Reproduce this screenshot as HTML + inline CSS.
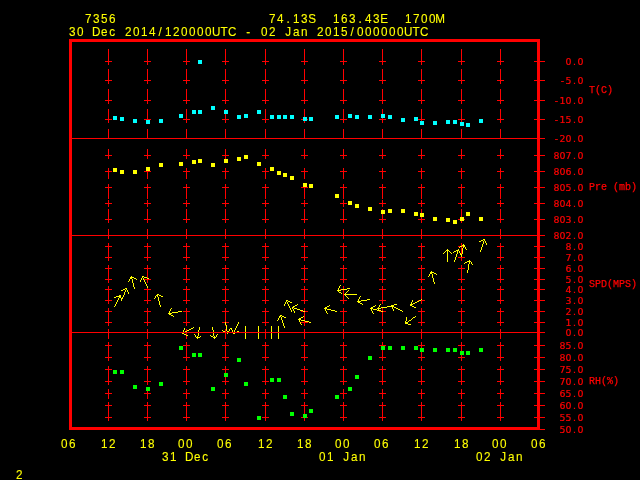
<!DOCTYPE html>
<html><head><meta charset="utf-8"><title>Meteogram 7356</title>
<style>
html,body{margin:0;padding:0;background:#000;}
#c{position:relative;width:640px;height:480px;background:#000;overflow:hidden;}
svg{position:absolute;left:0;top:0;}
text{text-anchor:middle;}
text.y{fill:#ff0;stroke:#ff0;stroke-width:0.1px;font-family:"Liberation Sans",sans-serif;font-size:13px;}
text.a{text-anchor:start;fill:#f00;stroke:#f00;stroke-width:0.25px;font-family:"Liberation Mono",monospace;font-size:10px;}
text.n{fill:#f00;stroke:#f00;stroke-width:0.22px;font-family:"DejaVu Sans","Liberation Sans",sans-serif;font-size:9.4px;}
</style></head><body><div id="c">
<svg width="640" height="480" viewBox="0 0 640 480" shape-rendering="crispEdges">
<path fill="#ff0000" d="M69 39h471v3h-471zM69 427h471v3h-471zM69 39h3v391h-3zM537 39h3v391h-3zM108 49h1v10h-1zM108 69h1v10h-1zM108 89h1v10h-1zM108 109h1v10h-1zM108 129h1v10h-1zM108 149h1v10h-1zM108 169h1v10h-1zM108 189h1v10h-1zM108 209h1v10h-1zM108 229h1v10h-1zM108 249h1v10h-1zM108 269h1v10h-1zM108 289h1v10h-1zM108 309h1v10h-1zM108 329h1v10h-1zM108 349h1v10h-1zM108 369h1v10h-1zM108 389h1v10h-1zM108 409h1v10h-1zM108 58h1v7h-1zM105 61h7v1h-7zM108 77h1v7h-1zM105 80h7v1h-7zM108 97h1v7h-1zM105 100h7v1h-7zM108 116h1v7h-1zM105 119h7v1h-7zM108 152h1v7h-1zM105 155h7v1h-7zM108 168h1v7h-1zM105 171h7v1h-7zM108 184h1v7h-1zM105 187h7v1h-7zM108 200h1v7h-1zM105 203h7v1h-7zM108 216h1v7h-1zM105 219h7v1h-7zM108 243h1v7h-1zM105 246h7v1h-7zM108 254h1v7h-1zM105 257h7v1h-7zM108 265h1v7h-1zM105 268h7v1h-7zM108 276h1v7h-1zM105 279h7v1h-7zM108 286h1v7h-1zM105 289h7v1h-7zM108 297h1v7h-1zM105 300h7v1h-7zM108 308h1v7h-1zM105 311h7v1h-7zM108 319h1v7h-1zM105 322h7v1h-7zM108 342h1v7h-1zM105 345h7v1h-7zM108 354h1v7h-1zM105 357h7v1h-7zM108 366h1v7h-1zM105 369h7v1h-7zM108 378h1v7h-1zM105 381h7v1h-7zM108 390h1v7h-1zM105 393h7v1h-7zM108 402h1v7h-1zM105 405h7v1h-7zM108 414h1v7h-1zM105 417h7v1h-7zM147 49h1v10h-1zM147 69h1v10h-1zM147 89h1v10h-1zM147 109h1v10h-1zM147 129h1v10h-1zM147 149h1v10h-1zM147 169h1v10h-1zM147 189h1v10h-1zM147 209h1v10h-1zM147 229h1v10h-1zM147 249h1v10h-1zM147 269h1v10h-1zM147 289h1v10h-1zM147 309h1v10h-1zM147 329h1v10h-1zM147 349h1v10h-1zM147 369h1v10h-1zM147 389h1v10h-1zM147 409h1v10h-1zM147 58h1v7h-1zM144 61h7v1h-7zM147 77h1v7h-1zM144 80h7v1h-7zM147 97h1v7h-1zM144 100h7v1h-7zM147 116h1v7h-1zM144 119h7v1h-7zM147 152h1v7h-1zM144 155h7v1h-7zM147 168h1v7h-1zM144 171h7v1h-7zM147 184h1v7h-1zM144 187h7v1h-7zM147 200h1v7h-1zM144 203h7v1h-7zM147 216h1v7h-1zM144 219h7v1h-7zM147 243h1v7h-1zM144 246h7v1h-7zM147 254h1v7h-1zM144 257h7v1h-7zM147 265h1v7h-1zM144 268h7v1h-7zM147 276h1v7h-1zM144 279h7v1h-7zM147 286h1v7h-1zM144 289h7v1h-7zM147 297h1v7h-1zM144 300h7v1h-7zM147 308h1v7h-1zM144 311h7v1h-7zM147 319h1v7h-1zM144 322h7v1h-7zM147 342h1v7h-1zM144 345h7v1h-7zM147 354h1v7h-1zM144 357h7v1h-7zM147 366h1v7h-1zM144 369h7v1h-7zM147 378h1v7h-1zM144 381h7v1h-7zM147 390h1v7h-1zM144 393h7v1h-7zM147 402h1v7h-1zM144 405h7v1h-7zM147 414h1v7h-1zM144 417h7v1h-7zM186 49h1v10h-1zM186 69h1v10h-1zM186 89h1v10h-1zM186 109h1v10h-1zM186 129h1v10h-1zM186 149h1v10h-1zM186 169h1v10h-1zM186 189h1v10h-1zM186 209h1v10h-1zM186 229h1v10h-1zM186 249h1v10h-1zM186 269h1v10h-1zM186 289h1v10h-1zM186 309h1v10h-1zM186 329h1v10h-1zM186 349h1v10h-1zM186 369h1v10h-1zM186 389h1v10h-1zM186 409h1v10h-1zM186 58h1v7h-1zM183 61h7v1h-7zM186 77h1v7h-1zM183 80h7v1h-7zM186 97h1v7h-1zM183 100h7v1h-7zM186 116h1v7h-1zM183 119h7v1h-7zM186 152h1v7h-1zM183 155h7v1h-7zM186 168h1v7h-1zM183 171h7v1h-7zM186 184h1v7h-1zM183 187h7v1h-7zM186 200h1v7h-1zM183 203h7v1h-7zM186 216h1v7h-1zM183 219h7v1h-7zM186 243h1v7h-1zM183 246h7v1h-7zM186 254h1v7h-1zM183 257h7v1h-7zM186 265h1v7h-1zM183 268h7v1h-7zM186 276h1v7h-1zM183 279h7v1h-7zM186 286h1v7h-1zM183 289h7v1h-7zM186 297h1v7h-1zM183 300h7v1h-7zM186 308h1v7h-1zM183 311h7v1h-7zM186 319h1v7h-1zM183 322h7v1h-7zM186 342h1v7h-1zM183 345h7v1h-7zM186 354h1v7h-1zM183 357h7v1h-7zM186 366h1v7h-1zM183 369h7v1h-7zM186 378h1v7h-1zM183 381h7v1h-7zM186 390h1v7h-1zM183 393h7v1h-7zM186 402h1v7h-1zM183 405h7v1h-7zM186 414h1v7h-1zM183 417h7v1h-7zM225 49h1v10h-1zM225 69h1v10h-1zM225 89h1v10h-1zM225 109h1v10h-1zM225 129h1v10h-1zM225 149h1v10h-1zM225 169h1v10h-1zM225 189h1v10h-1zM225 209h1v10h-1zM225 229h1v10h-1zM225 249h1v10h-1zM225 269h1v10h-1zM225 289h1v10h-1zM225 309h1v10h-1zM225 329h1v10h-1zM225 349h1v10h-1zM225 369h1v10h-1zM225 389h1v10h-1zM225 409h1v10h-1zM225 58h1v7h-1zM222 61h7v1h-7zM225 77h1v7h-1zM222 80h7v1h-7zM225 97h1v7h-1zM222 100h7v1h-7zM225 116h1v7h-1zM222 119h7v1h-7zM225 152h1v7h-1zM222 155h7v1h-7zM225 168h1v7h-1zM222 171h7v1h-7zM225 184h1v7h-1zM222 187h7v1h-7zM225 200h1v7h-1zM222 203h7v1h-7zM225 216h1v7h-1zM222 219h7v1h-7zM225 243h1v7h-1zM222 246h7v1h-7zM225 254h1v7h-1zM222 257h7v1h-7zM225 265h1v7h-1zM222 268h7v1h-7zM225 276h1v7h-1zM222 279h7v1h-7zM225 286h1v7h-1zM222 289h7v1h-7zM225 297h1v7h-1zM222 300h7v1h-7zM225 308h1v7h-1zM222 311h7v1h-7zM225 319h1v7h-1zM222 322h7v1h-7zM225 342h1v7h-1zM222 345h7v1h-7zM225 354h1v7h-1zM222 357h7v1h-7zM225 366h1v7h-1zM222 369h7v1h-7zM225 378h1v7h-1zM222 381h7v1h-7zM225 390h1v7h-1zM222 393h7v1h-7zM225 402h1v7h-1zM222 405h7v1h-7zM225 414h1v7h-1zM222 417h7v1h-7zM265 49h1v10h-1zM265 69h1v10h-1zM265 89h1v10h-1zM265 109h1v10h-1zM265 129h1v10h-1zM265 149h1v10h-1zM265 169h1v10h-1zM265 189h1v10h-1zM265 209h1v10h-1zM265 229h1v10h-1zM265 249h1v10h-1zM265 269h1v10h-1zM265 289h1v10h-1zM265 309h1v10h-1zM265 329h1v10h-1zM265 349h1v10h-1zM265 369h1v10h-1zM265 389h1v10h-1zM265 409h1v10h-1zM265 58h1v7h-1zM262 61h7v1h-7zM265 77h1v7h-1zM262 80h7v1h-7zM265 97h1v7h-1zM262 100h7v1h-7zM265 116h1v7h-1zM262 119h7v1h-7zM265 152h1v7h-1zM262 155h7v1h-7zM265 168h1v7h-1zM262 171h7v1h-7zM265 184h1v7h-1zM262 187h7v1h-7zM265 200h1v7h-1zM262 203h7v1h-7zM265 216h1v7h-1zM262 219h7v1h-7zM265 243h1v7h-1zM262 246h7v1h-7zM265 254h1v7h-1zM262 257h7v1h-7zM265 265h1v7h-1zM262 268h7v1h-7zM265 276h1v7h-1zM262 279h7v1h-7zM265 286h1v7h-1zM262 289h7v1h-7zM265 297h1v7h-1zM262 300h7v1h-7zM265 308h1v7h-1zM262 311h7v1h-7zM265 319h1v7h-1zM262 322h7v1h-7zM265 342h1v7h-1zM262 345h7v1h-7zM265 354h1v7h-1zM262 357h7v1h-7zM265 366h1v7h-1zM262 369h7v1h-7zM265 378h1v7h-1zM262 381h7v1h-7zM265 390h1v7h-1zM262 393h7v1h-7zM265 402h1v7h-1zM262 405h7v1h-7zM265 414h1v7h-1zM262 417h7v1h-7zM304 49h1v10h-1zM304 69h1v10h-1zM304 89h1v10h-1zM304 109h1v10h-1zM304 129h1v10h-1zM304 149h1v10h-1zM304 169h1v10h-1zM304 189h1v10h-1zM304 209h1v10h-1zM304 229h1v10h-1zM304 249h1v10h-1zM304 269h1v10h-1zM304 289h1v10h-1zM304 309h1v10h-1zM304 329h1v10h-1zM304 349h1v10h-1zM304 369h1v10h-1zM304 389h1v10h-1zM304 409h1v10h-1zM304 58h1v7h-1zM301 61h7v1h-7zM304 77h1v7h-1zM301 80h7v1h-7zM304 97h1v7h-1zM301 100h7v1h-7zM304 116h1v7h-1zM301 119h7v1h-7zM304 152h1v7h-1zM301 155h7v1h-7zM304 168h1v7h-1zM301 171h7v1h-7zM304 184h1v7h-1zM301 187h7v1h-7zM304 200h1v7h-1zM301 203h7v1h-7zM304 216h1v7h-1zM301 219h7v1h-7zM304 243h1v7h-1zM301 246h7v1h-7zM304 254h1v7h-1zM301 257h7v1h-7zM304 265h1v7h-1zM301 268h7v1h-7zM304 276h1v7h-1zM301 279h7v1h-7zM304 286h1v7h-1zM301 289h7v1h-7zM304 297h1v7h-1zM301 300h7v1h-7zM304 308h1v7h-1zM301 311h7v1h-7zM304 319h1v7h-1zM301 322h7v1h-7zM304 342h1v7h-1zM301 345h7v1h-7zM304 354h1v7h-1zM301 357h7v1h-7zM304 366h1v7h-1zM301 369h7v1h-7zM304 378h1v7h-1zM301 381h7v1h-7zM304 390h1v7h-1zM301 393h7v1h-7zM304 402h1v7h-1zM301 405h7v1h-7zM304 414h1v7h-1zM301 417h7v1h-7zM343 49h1v10h-1zM343 69h1v10h-1zM343 89h1v10h-1zM343 109h1v10h-1zM343 129h1v10h-1zM343 149h1v10h-1zM343 169h1v10h-1zM343 189h1v10h-1zM343 209h1v10h-1zM343 229h1v10h-1zM343 249h1v10h-1zM343 269h1v10h-1zM343 289h1v10h-1zM343 309h1v10h-1zM343 329h1v10h-1zM343 349h1v10h-1zM343 369h1v10h-1zM343 389h1v10h-1zM343 409h1v10h-1zM343 58h1v7h-1zM340 61h7v1h-7zM343 77h1v7h-1zM340 80h7v1h-7zM343 97h1v7h-1zM340 100h7v1h-7zM343 116h1v7h-1zM340 119h7v1h-7zM343 152h1v7h-1zM340 155h7v1h-7zM343 168h1v7h-1zM340 171h7v1h-7zM343 184h1v7h-1zM340 187h7v1h-7zM343 200h1v7h-1zM340 203h7v1h-7zM343 216h1v7h-1zM340 219h7v1h-7zM343 243h1v7h-1zM340 246h7v1h-7zM343 254h1v7h-1zM340 257h7v1h-7zM343 265h1v7h-1zM340 268h7v1h-7zM343 276h1v7h-1zM340 279h7v1h-7zM343 286h1v7h-1zM340 289h7v1h-7zM343 297h1v7h-1zM340 300h7v1h-7zM343 308h1v7h-1zM340 311h7v1h-7zM343 319h1v7h-1zM340 322h7v1h-7zM343 342h1v7h-1zM340 345h7v1h-7zM343 354h1v7h-1zM340 357h7v1h-7zM343 366h1v7h-1zM340 369h7v1h-7zM343 378h1v7h-1zM340 381h7v1h-7zM343 390h1v7h-1zM340 393h7v1h-7zM343 402h1v7h-1zM340 405h7v1h-7zM343 414h1v7h-1zM340 417h7v1h-7zM382 49h1v10h-1zM382 69h1v10h-1zM382 89h1v10h-1zM382 109h1v10h-1zM382 129h1v10h-1zM382 149h1v10h-1zM382 169h1v10h-1zM382 189h1v10h-1zM382 209h1v10h-1zM382 229h1v10h-1zM382 249h1v10h-1zM382 269h1v10h-1zM382 289h1v10h-1zM382 309h1v10h-1zM382 329h1v10h-1zM382 349h1v10h-1zM382 369h1v10h-1zM382 389h1v10h-1zM382 409h1v10h-1zM382 58h1v7h-1zM379 61h7v1h-7zM382 77h1v7h-1zM379 80h7v1h-7zM382 97h1v7h-1zM379 100h7v1h-7zM382 116h1v7h-1zM379 119h7v1h-7zM382 152h1v7h-1zM379 155h7v1h-7zM382 168h1v7h-1zM379 171h7v1h-7zM382 184h1v7h-1zM379 187h7v1h-7zM382 200h1v7h-1zM379 203h7v1h-7zM382 216h1v7h-1zM379 219h7v1h-7zM382 243h1v7h-1zM379 246h7v1h-7zM382 254h1v7h-1zM379 257h7v1h-7zM382 265h1v7h-1zM379 268h7v1h-7zM382 276h1v7h-1zM379 279h7v1h-7zM382 286h1v7h-1zM379 289h7v1h-7zM382 297h1v7h-1zM379 300h7v1h-7zM382 308h1v7h-1zM379 311h7v1h-7zM382 319h1v7h-1zM379 322h7v1h-7zM382 342h1v7h-1zM379 345h7v1h-7zM382 354h1v7h-1zM379 357h7v1h-7zM382 366h1v7h-1zM379 369h7v1h-7zM382 378h1v7h-1zM379 381h7v1h-7zM382 390h1v7h-1zM379 393h7v1h-7zM382 402h1v7h-1zM379 405h7v1h-7zM382 414h1v7h-1zM379 417h7v1h-7zM421 49h1v10h-1zM421 69h1v10h-1zM421 89h1v10h-1zM421 109h1v10h-1zM421 129h1v10h-1zM421 149h1v10h-1zM421 169h1v10h-1zM421 189h1v10h-1zM421 209h1v10h-1zM421 229h1v10h-1zM421 249h1v10h-1zM421 269h1v10h-1zM421 289h1v10h-1zM421 309h1v10h-1zM421 329h1v10h-1zM421 349h1v10h-1zM421 369h1v10h-1zM421 389h1v10h-1zM421 409h1v10h-1zM421 58h1v7h-1zM418 61h7v1h-7zM421 77h1v7h-1zM418 80h7v1h-7zM421 97h1v7h-1zM418 100h7v1h-7zM421 116h1v7h-1zM418 119h7v1h-7zM421 152h1v7h-1zM418 155h7v1h-7zM421 168h1v7h-1zM418 171h7v1h-7zM421 184h1v7h-1zM418 187h7v1h-7zM421 200h1v7h-1zM418 203h7v1h-7zM421 216h1v7h-1zM418 219h7v1h-7zM421 243h1v7h-1zM418 246h7v1h-7zM421 254h1v7h-1zM418 257h7v1h-7zM421 265h1v7h-1zM418 268h7v1h-7zM421 276h1v7h-1zM418 279h7v1h-7zM421 286h1v7h-1zM418 289h7v1h-7zM421 297h1v7h-1zM418 300h7v1h-7zM421 308h1v7h-1zM418 311h7v1h-7zM421 319h1v7h-1zM418 322h7v1h-7zM421 342h1v7h-1zM418 345h7v1h-7zM421 354h1v7h-1zM418 357h7v1h-7zM421 366h1v7h-1zM418 369h7v1h-7zM421 378h1v7h-1zM418 381h7v1h-7zM421 390h1v7h-1zM418 393h7v1h-7zM421 402h1v7h-1zM418 405h7v1h-7zM421 414h1v7h-1zM418 417h7v1h-7zM461 49h1v10h-1zM461 69h1v10h-1zM461 89h1v10h-1zM461 109h1v10h-1zM461 129h1v10h-1zM461 149h1v10h-1zM461 169h1v10h-1zM461 189h1v10h-1zM461 209h1v10h-1zM461 229h1v10h-1zM461 249h1v10h-1zM461 269h1v10h-1zM461 289h1v10h-1zM461 309h1v10h-1zM461 329h1v10h-1zM461 349h1v10h-1zM461 369h1v10h-1zM461 389h1v10h-1zM461 409h1v10h-1zM461 58h1v7h-1zM458 61h7v1h-7zM461 77h1v7h-1zM458 80h7v1h-7zM461 97h1v7h-1zM458 100h7v1h-7zM461 116h1v7h-1zM458 119h7v1h-7zM461 152h1v7h-1zM458 155h7v1h-7zM461 168h1v7h-1zM458 171h7v1h-7zM461 184h1v7h-1zM458 187h7v1h-7zM461 200h1v7h-1zM458 203h7v1h-7zM461 216h1v7h-1zM458 219h7v1h-7zM461 243h1v7h-1zM458 246h7v1h-7zM461 254h1v7h-1zM458 257h7v1h-7zM461 265h1v7h-1zM458 268h7v1h-7zM461 276h1v7h-1zM458 279h7v1h-7zM461 286h1v7h-1zM458 289h7v1h-7zM461 297h1v7h-1zM458 300h7v1h-7zM461 308h1v7h-1zM458 311h7v1h-7zM461 319h1v7h-1zM458 322h7v1h-7zM461 342h1v7h-1zM458 345h7v1h-7zM461 354h1v7h-1zM458 357h7v1h-7zM461 366h1v7h-1zM458 369h7v1h-7zM461 378h1v7h-1zM458 381h7v1h-7zM461 390h1v7h-1zM458 393h7v1h-7zM461 402h1v7h-1zM458 405h7v1h-7zM461 414h1v7h-1zM458 417h7v1h-7zM500 49h1v10h-1zM500 69h1v10h-1zM500 89h1v10h-1zM500 109h1v10h-1zM500 129h1v10h-1zM500 149h1v10h-1zM500 169h1v10h-1zM500 189h1v10h-1zM500 209h1v10h-1zM500 229h1v10h-1zM500 249h1v10h-1zM500 269h1v10h-1zM500 289h1v10h-1zM500 309h1v10h-1zM500 329h1v10h-1zM500 349h1v10h-1zM500 369h1v10h-1zM500 389h1v10h-1zM500 409h1v10h-1zM500 58h1v7h-1zM497 61h7v1h-7zM500 77h1v7h-1zM497 80h7v1h-7zM500 97h1v7h-1zM497 100h7v1h-7zM500 116h1v7h-1zM497 119h7v1h-7zM500 152h1v7h-1zM497 155h7v1h-7zM500 168h1v7h-1zM497 171h7v1h-7zM500 184h1v7h-1zM497 187h7v1h-7zM500 200h1v7h-1zM497 203h7v1h-7zM500 216h1v7h-1zM497 219h7v1h-7zM500 243h1v7h-1zM497 246h7v1h-7zM500 254h1v7h-1zM497 257h7v1h-7zM500 265h1v7h-1zM497 268h7v1h-7zM500 276h1v7h-1zM497 279h7v1h-7zM500 286h1v7h-1zM497 289h7v1h-7zM500 297h1v7h-1zM497 300h7v1h-7zM500 308h1v7h-1zM497 311h7v1h-7zM500 319h1v7h-1zM497 322h7v1h-7zM500 342h1v7h-1zM497 345h7v1h-7zM500 354h1v7h-1zM497 357h7v1h-7zM500 366h1v7h-1zM497 369h7v1h-7zM500 378h1v7h-1zM497 381h7v1h-7zM500 390h1v7h-1zM497 393h7v1h-7zM500 402h1v7h-1zM497 405h7v1h-7zM500 414h1v7h-1zM497 417h7v1h-7zM534 61h11v1h-11zM534 80h11v1h-11zM534 100h11v1h-11zM534 119h11v1h-11zM534 155h11v1h-11zM534 171h11v1h-11zM534 187h11v1h-11zM534 203h11v1h-11zM534 219h11v1h-11zM534 246h11v1h-11zM534 257h11v1h-11zM534 268h11v1h-11zM534 279h11v1h-11zM534 289h11v1h-11zM534 300h11v1h-11zM534 311h11v1h-11zM534 322h11v1h-11zM534 345h11v1h-11zM534 357h11v1h-11zM534 369h11v1h-11zM534 381h11v1h-11zM534 393h11v1h-11zM534 405h11v1h-11zM534 417h11v1h-11zM534 429h11v1h-11z"/>
<path fill="#00ffff" d="M113 116h4v4h-4zM120 117h4v4h-4zM133 119h4v4h-4zM146 120h4v4h-4zM159 119h4v4h-4zM179 114h4v4h-4zM192 110h4v4h-4zM198 110h4v4h-4zM198 60h4v4h-4zM211 106h4v4h-4zM224 110h4v4h-4zM237 115h4v4h-4zM244 114h4v4h-4zM257 110h4v4h-4zM270 115h4v4h-4zM277 115h4v4h-4zM283 115h4v4h-4zM290 115h4v4h-4zM303 117h4v4h-4zM309 117h4v4h-4zM335 115h4v4h-4zM348 114h4v4h-4zM355 115h4v4h-4zM368 115h4v4h-4zM381 114h4v4h-4zM388 115h4v4h-4zM401 118h4v4h-4zM414 117h4v4h-4zM420 121h4v4h-4zM433 121h4v4h-4zM446 120h4v4h-4zM453 120h4v4h-4zM460 122h4v4h-4zM466 123h4v4h-4zM479 119h4v4h-4z"/>
<path fill="#ffff00" d="M113 168h4v4h-4zM120 170h4v4h-4zM133 170h4v4h-4zM146 167h4v4h-4zM159 163h4v4h-4zM179 162h4v4h-4zM192 160h4v4h-4zM198 159h4v4h-4zM211 163h4v4h-4zM224 159h4v4h-4zM237 157h4v4h-4zM244 155h4v4h-4zM257 162h4v4h-4zM270 167h4v4h-4zM277 171h4v4h-4zM283 173h4v4h-4zM290 176h4v4h-4zM303 183h4v4h-4zM309 184h4v4h-4zM335 194h4v4h-4zM348 201h4v4h-4zM355 204h4v4h-4zM368 207h4v4h-4zM381 210h4v4h-4zM388 209h4v4h-4zM401 209h4v4h-4zM414 212h4v4h-4zM420 213h4v4h-4zM433 217h4v4h-4zM446 218h4v4h-4zM453 220h4v4h-4zM460 217h4v4h-4zM466 212h4v4h-4zM479 217h4v4h-4z"/>
<path fill="#00ff00" d="M113 370h4v4h-4zM120 370h4v4h-4zM133 385h4v4h-4zM146 387h4v4h-4zM159 382h4v4h-4zM179 346h4v4h-4zM192 353h4v4h-4zM198 353h4v4h-4zM211 387h4v4h-4zM224 373h4v4h-4zM237 358h4v4h-4zM244 382h4v4h-4zM257 416h4v4h-4zM270 378h4v4h-4zM277 378h4v4h-4zM283 395h4v4h-4zM290 412h4v4h-4zM303 414h4v4h-4zM309 409h4v4h-4zM335 395h4v4h-4zM348 387h4v4h-4zM355 375h4v4h-4zM368 356h4v4h-4zM381 346h4v4h-4zM388 346h4v4h-4zM401 346h4v4h-4zM414 346h4v4h-4zM420 348h4v4h-4zM433 348h4v4h-4zM446 348h4v4h-4zM453 348h4v4h-4zM460 351h4v4h-4zM466 351h4v4h-4zM479 348h4v4h-4z"/>
<path fill="#ffff00" d="M483 239h2v1h-2zM481 240h2v1h-2zM484 240h1v1h-1zM479 241h2v1h-2zM483 241h1v1h-1zM485 241h1v1h-1zM483 242h1v1h-1zM485 242h1v1h-1zM483 243h1v1h-1zM486 243h1v1h-1zM463 244h1v1h-1zM482 244h1v1h-1zM486 244h1v1h-1zM462 245h3v1h-3zM482 245h1v1h-1zM460 246h2v1h-2zM463 246h2v1h-2zM482 246h1v1h-1zM459 247h1v1h-1zM463 247h1v1h-1zM465 247h1v1h-1zM481 247h1v1h-1zM462 248h1v1h-1zM465 248h1v1h-1zM481 248h1v1h-1zM447 249h1v1h-1zM458 249h1v1h-1zM462 249h1v1h-1zM466 249h1v1h-1zM481 249h1v1h-1zM446 250h3v1h-3zM456 250h3v1h-3zM462 250h1v1h-1zM480 250h1v1h-1zM445 251h1v1h-1zM447 251h1v1h-1zM449 251h1v1h-1zM454 251h2v1h-2zM457 251h1v1h-1zM459 251h1v1h-1zM462 251h1v1h-1zM480 251h1v1h-1zM444 252h1v1h-1zM447 252h1v1h-1zM450 252h1v1h-1zM453 252h1v1h-1zM457 252h1v1h-1zM459 252h1v1h-1zM462 252h1v1h-1zM443 253h1v1h-1zM447 253h1v1h-1zM451 253h1v1h-1zM457 253h1v1h-1zM460 253h1v1h-1zM462 253h1v1h-1zM447 254h1v1h-1zM456 254h1v1h-1zM460 254h2v1h-2zM447 255h1v1h-1zM456 255h1v1h-1zM461 255h1v1h-1zM447 256h1v1h-1zM456 256h1v1h-1zM461 256h1v1h-1zM447 257h1v1h-1zM455 257h1v1h-1zM447 258h1v1h-1zM455 258h1v1h-1zM447 259h1v1h-1zM455 259h1v1h-1zM447 260h1v1h-1zM454 260h1v1h-1zM469 260h1v1h-1zM447 261h1v1h-1zM454 261h1v1h-1zM467 261h4v1h-4zM465 262h2v1h-2zM469 262h1v1h-1zM471 262h1v1h-1zM464 263h1v1h-1zM469 263h1v1h-1zM471 263h1v1h-1zM468 264h1v1h-1zM472 264h1v1h-1zM468 265h1v1h-1zM468 266h1v1h-1zM468 267h1v1h-1zM468 268h1v1h-1zM468 269h1v1h-1zM467 270h1v1h-1zM431 271h1v1h-1zM467 271h1v1h-1zM430 272h4v1h-4zM467 272h1v1h-1zM430 273h2v1h-2zM434 273h2v1h-2zM429 274h1v1h-1zM432 274h1v1h-1zM436 274h1v1h-1zM429 275h1v1h-1zM432 275h1v1h-1zM131 276h1v1h-1zM142 276h2v1h-2zM428 276h1v1h-1zM432 276h1v1h-1zM130 277h4v1h-4zM142 277h1v1h-1zM144 277h3v1h-3zM432 277h1v1h-1zM130 278h2v1h-2zM134 278h2v1h-2zM141 278h1v1h-1zM143 278h1v1h-1zM147 278h2v1h-2zM433 278h1v1h-1zM129 279h1v1h-1zM132 279h1v1h-1zM136 279h1v1h-1zM141 279h1v1h-1zM143 279h1v1h-1zM433 279h1v1h-1zM129 280h1v1h-1zM132 280h1v1h-1zM140 280h1v1h-1zM144 280h1v1h-1zM433 280h1v1h-1zM128 281h1v1h-1zM132 281h1v1h-1zM140 281h1v1h-1zM144 281h1v1h-1zM433 281h1v1h-1zM132 282h1v1h-1zM145 282h1v1h-1zM434 282h1v1h-1zM133 283h1v1h-1zM145 283h1v1h-1zM434 283h1v1h-1zM133 284h1v1h-1zM146 284h1v1h-1zM133 285h1v1h-1zM146 285h1v1h-1zM340 285h1v1h-1zM133 286h1v1h-1zM147 286h1v1h-1zM339 286h1v1h-1zM134 287h1v1h-1zM147 287h1v1h-1zM339 287h1v1h-1zM125 288h2v1h-2zM134 288h1v1h-1zM338 288h1v1h-1zM347 288h3v1h-3zM123 289h2v1h-2zM126 289h1v1h-1zM338 289h1v1h-1zM341 289h6v1h-6zM121 290h2v1h-2zM125 290h1v1h-1zM127 290h1v1h-1zM337 290h4v1h-4zM348 290h1v1h-1zM125 291h1v1h-1zM127 291h1v1h-1zM338 291h1v1h-1zM347 291h1v1h-1zM124 292h1v1h-1zM128 292h1v1h-1zM339 292h2v1h-2zM346 292h1v1h-1zM124 293h1v1h-1zM128 293h1v1h-1zM341 293h1v1h-1zM345 293h1v1h-1zM124 294h1v1h-1zM157 294h2v1h-2zM344 294h13v1h-13zM119 295h2v1h-2zM123 295h1v1h-1zM156 295h2v1h-2zM159 295h2v1h-2zM345 295h1v1h-1zM116 296h5v1h-5zM123 296h1v1h-1zM155 296h1v1h-1zM157 296h1v1h-1zM161 296h2v1h-2zM346 296h1v1h-1zM360 296h1v1h-1zM114 297h2v1h-2zM119 297h2v1h-2zM122 297h1v1h-1zM155 297h1v1h-1zM158 297h1v1h-1zM347 297h1v1h-1zM359 297h1v1h-1zM118 298h1v1h-1zM121 298h2v1h-2zM154 298h1v1h-1zM158 298h1v1h-1zM348 298h1v1h-1zM359 298h1v1h-1zM118 299h1v1h-1zM121 299h1v1h-1zM158 299h1v1h-1zM358 299h1v1h-1zM367 299h3v1h-3zM421 299h1v1h-1zM117 300h1v1h-1zM121 300h1v1h-1zM158 300h1v1h-1zM286 300h2v1h-2zM358 300h1v1h-1zM361 300h6v1h-6zM412 300h1v1h-1zM419 300h2v1h-2zM117 301h1v1h-1zM159 301h1v1h-1zM286 301h1v1h-1zM288 301h2v1h-2zM357 301h4v1h-4zM412 301h1v1h-1zM417 301h2v1h-2zM116 302h1v1h-1zM159 302h1v1h-1zM285 302h1v1h-1zM287 302h1v1h-1zM290 302h2v1h-2zM358 302h2v1h-2zM411 302h1v1h-1zM415 302h2v1h-2zM116 303h1v1h-1zM159 303h1v1h-1zM285 303h1v1h-1zM287 303h1v1h-1zM360 303h2v1h-2zM411 303h1v1h-1zM413 303h2v1h-2zM115 304h1v1h-1zM159 304h1v1h-1zM284 304h1v1h-1zM288 304h1v1h-1zM297 304h1v1h-1zM362 304h1v1h-1zM380 304h1v1h-1zM394 304h3v1h-3zM410 304h3v1h-3zM115 305h1v1h-1zM160 305h1v1h-1zM284 305h1v1h-1zM288 305h1v1h-1zM295 305h2v1h-2zM329 305h1v1h-1zM375 305h1v1h-1zM379 305h1v1h-1zM391 305h3v1h-3zM410 305h2v1h-2zM114 306h1v1h-1zM160 306h1v1h-1zM289 306h1v1h-1zM293 306h2v1h-2zM327 306h2v1h-2zM373 306h2v1h-2zM379 306h1v1h-1zM387 306h7v1h-7zM412 306h2v1h-2zM289 307h1v1h-1zM292 307h2v1h-2zM325 307h2v1h-2zM371 307h2v1h-2zM378 307h1v1h-1zM381 307h6v1h-6zM392 307h1v1h-1zM394 307h2v1h-2zM414 307h2v1h-2zM171 308h1v1h-1zM290 308h1v1h-1zM292 308h1v1h-1zM294 308h3v1h-3zM324 308h3v1h-3zM370 308h3v1h-3zM377 308h4v1h-4zM392 308h1v1h-1zM396 308h2v1h-2zM170 309h1v1h-1zM290 309h1v1h-1zM293 309h1v1h-1zM297 309h3v1h-3zM325 309h1v1h-1zM327 309h4v1h-4zM371 309h1v1h-1zM373 309h4v1h-4zM378 309h1v1h-1zM393 309h1v1h-1zM398 309h2v1h-2zM170 310h1v1h-1zM291 310h1v1h-1zM293 310h1v1h-1zM300 310h3v1h-3zM325 310h1v1h-1zM331 310h4v1h-4zM371 310h1v1h-1zM377 310h4v1h-4zM393 310h1v1h-1zM400 310h2v1h-2zM169 311h1v1h-1zM178 311h4v1h-4zM291 311h1v1h-1zM294 311h1v1h-1zM303 311h2v1h-2zM326 311h1v1h-1zM335 311h2v1h-2zM372 311h1v1h-1zM381 311h2v1h-2zM402 311h1v1h-1zM169 312h1v1h-1zM172 312h6v1h-6zM294 312h1v1h-1zM326 312h1v1h-1zM372 312h1v1h-1zM168 313h4v1h-4zM327 313h1v1h-1zM373 313h1v1h-1zM169 314h2v1h-2zM171 315h2v1h-2zM280 315h2v1h-2zM173 316h1v1h-1zM279 316h2v1h-2zM282 316h2v1h-2zM303 316h1v1h-1zM415 316h1v1h-1zM279 317h1v1h-1zM281 317h1v1h-1zM284 317h2v1h-2zM301 317h2v1h-2zM406 317h1v1h-1zM413 317h2v1h-2zM278 318h1v1h-1zM281 318h1v1h-1zM299 318h2v1h-2zM406 318h1v1h-1zM412 318h1v1h-1zM278 319h1v1h-1zM281 319h1v1h-1zM298 319h3v1h-3zM406 319h1v1h-1zM411 319h1v1h-1zM277 320h1v1h-1zM282 320h1v1h-1zM299 320h1v1h-1zM301 320h4v1h-4zM406 320h1v1h-1zM409 320h2v1h-2zM282 321h1v1h-1zM299 321h1v1h-1zM305 321h4v1h-4zM405 321h1v1h-1zM408 321h1v1h-1zM225 322h1v1h-1zM238 322h1v1h-1zM282 322h1v1h-1zM300 322h1v1h-1zM309 322h2v1h-2zM405 322h3v1h-3zM225 323h1v1h-1zM238 323h1v1h-1zM283 323h1v1h-1zM300 323h1v1h-1zM405 323h3v1h-3zM225 324h1v1h-1zM237 324h1v1h-1zM283 324h1v1h-1zM301 324h1v1h-1zM408 324h3v1h-3zM226 325h1v1h-1zM237 325h1v1h-1zM283 325h1v1h-1zM226 326h1v1h-1zM236 326h1v1h-1zM284 326h1v1h-1zM193 327h1v1h-1zM199 327h1v1h-1zM212 327h1v1h-1zM226 327h1v1h-1zM236 327h1v1h-1zM284 327h1v1h-1zM184 328h1v1h-1zM191 328h2v1h-2zM199 328h1v1h-1zM212 328h1v1h-1zM226 328h1v1h-1zM230 328h2v1h-2zM235 328h1v1h-1zM184 329h1v1h-1zM189 329h2v1h-2zM199 329h1v1h-1zM212 329h1v1h-1zM226 329h1v1h-1zM229 329h1v1h-1zM231 329h1v1h-1zM235 329h1v1h-1zM183 330h1v1h-1zM187 330h2v1h-2zM198 330h1v1h-1zM213 330h1v1h-1zM222 330h1v1h-1zM226 330h1v1h-1zM229 330h1v1h-1zM232 330h1v1h-1zM234 330h1v1h-1zM183 331h1v1h-1zM185 331h2v1h-2zM198 331h1v1h-1zM213 331h1v1h-1zM223 331h2v1h-2zM227 331h2v1h-2zM232 331h1v1h-1zM234 331h1v1h-1zM237 331h2v1h-2zM182 332h3v1h-3zM198 332h1v1h-1zM213 332h1v1h-1zM225 332h4v1h-4zM233 332h1v1h-1zM235 332h2v1h-2zM182 333h2v1h-2zM198 333h1v1h-1zM213 333h1v1h-1zM227 333h1v1h-1zM233 333h2v1h-2zM184 334h2v1h-2zM194 334h1v1h-1zM198 334h1v1h-1zM213 334h1v1h-1zM217 334h1v1h-1zM186 335h2v1h-2zM195 335h1v1h-1zM198 335h1v1h-1zM210 335h1v1h-1zM213 335h1v1h-1zM216 335h1v1h-1zM195 336h1v1h-1zM197 336h1v1h-1zM200 336h1v1h-1zM211 336h2v1h-2zM214 336h1v1h-1zM216 336h1v1h-1zM196 337h4v1h-4zM213 337h3v1h-3zM197 338h1v1h-1zM214 338h1v1h-1z"/>
<path fill="#ffff00" d="M245 326h1v13h-1zM258 326h1v13h-1zM271 326h1v13h-1zM278 326h1v13h-1z"/>
<path fill="#ff0000" d="M72 138h473v1h-473zM72 235h473v1h-473zM72 332h473v1h-473z"/>
</svg>
<svg width="640" height="480" viewBox="0 0 640 480">
<text class="y" transform="scale(0.9 1)" x="98.00 106.89 115.78 124.67" y="23">7356</text>
<text class="y" transform="scale(0.9 1)" x="302.44 311.33 320.22 329.11 338.00 346.89" y="23">74.13S</text>
<text class="y" transform="scale(0.9 1)" x="373.56 382.44 391.33 400.22 409.11 418.00 426.89" y="23">163.43E</text>
<text class="y" transform="scale(0.9 1)" x="453.56 462.44 471.33 480.22 489.11" y="23">1700M</text>
<text class="y" transform="scale(0.9 1)" x="80.22 89.11" y="36">30</text>
<text class="y" transform="scale(0.9 1)" x="106.89 115.78 124.67" y="36">Dec</text>
<text class="y" transform="scale(0.9 1)" x="142.44 151.33 160.22 169.11 178.00 186.89 195.78 204.67 213.56 222.44 231.33 240.22 249.11 258.00" y="36">2014/120000UTC</text>
<text class="y" transform="scale(0.9 1)" x="275.78" y="36">-</text>
<text class="y" transform="scale(0.9 1)" x="293.56 302.44" y="36">02</text>
<text class="y" transform="scale(0.9 1)" x="320.22 329.11 338.00" y="36">Jan</text>
<text class="y" transform="scale(0.9 1)" x="355.78 364.67 373.56 382.44 391.33 400.22 409.11 418.00 426.89 435.78 444.67 453.56 462.44 471.33" y="36">2015/000000UTC</text>
<text class="y" transform="scale(0.9 1)" x="71.33 80.22" y="448">06</text>
<text class="y" transform="scale(0.9 1)" x="115.78 124.67" y="448">12</text>
<text class="y" transform="scale(0.9 1)" x="159.11 168.00" y="448">18</text>
<text class="y" transform="scale(0.9 1)" x="201.33 210.22" y="448">00</text>
<text class="y" transform="scale(0.9 1)" x="244.67 253.56" y="448">06</text>
<text class="y" transform="scale(0.9 1)" x="290.22 299.11" y="448">12</text>
<text class="y" transform="scale(0.9 1)" x="333.56 342.44" y="448">18</text>
<text class="y" transform="scale(0.9 1)" x="375.78 384.67" y="448">00</text>
<text class="y" transform="scale(0.9 1)" x="419.11 428.00" y="448">06</text>
<text class="y" transform="scale(0.9 1)" x="463.56 472.44" y="448">12</text>
<text class="y" transform="scale(0.9 1)" x="508.00 516.89" y="448">18</text>
<text class="y" transform="scale(0.9 1)" x="550.22 559.11" y="448">00</text>
<text class="y" transform="scale(0.9 1)" x="593.56 602.44" y="448">06</text>
<text class="y" transform="scale(0.9 1)" x="183.56 192.44" y="461">31</text>
<text class="y" transform="scale(0.9 1)" x="210.22 219.11 228.00" y="461">Dec</text>
<text class="y" transform="scale(0.9 1)" x="358.00 366.89" y="461">01</text>
<text class="y" transform="scale(0.9 1)" x="384.67 393.56 402.44" y="461">Jan</text>
<text class="y" transform="scale(0.9 1)" x="532.44 541.33" y="461">02</text>
<text class="y" transform="scale(0.9 1)" x="559.11 568.00 576.89" y="461">Jan</text>
<text class="y" transform="scale(0.9 1)" x="21.33" y="479">2</text>
<text class="n" x="568.50 574.50 580.50" y="65">0.0</text>
<text class="n" x="562.50 568.50 574.50 580.50" y="84">-5.0</text>
<text class="n" x="556.50 562.50 568.50 574.50 580.50" y="104">-10.0</text>
<text class="n" x="556.50 562.50 568.50 574.50 580.50" y="123">-15.0</text>
<text class="n" x="556.50 562.50 568.50 574.50 580.50" y="142">-20.0</text>
<text class="n" x="556.50 562.50 568.50 574.50 580.50" y="159">807.0</text>
<text class="n" x="556.50 562.50 568.50 574.50 580.50" y="175">806.0</text>
<text class="n" x="556.50 562.50 568.50 574.50 580.50" y="191">805.0</text>
<text class="n" x="556.50 562.50 568.50 574.50 580.50" y="207">804.0</text>
<text class="n" x="556.50 562.50 568.50 574.50 580.50" y="223">803.0</text>
<text class="n" x="556.50 562.50 568.50 574.50 580.50" y="239">802.0</text>
<text class="n" x="568.50 574.50 580.50" y="250">8.0</text>
<text class="n" x="568.50 574.50 580.50" y="261">7.0</text>
<text class="n" x="568.50 574.50 580.50" y="272">6.0</text>
<text class="n" x="568.50 574.50 580.50" y="283">5.0</text>
<text class="n" x="568.50 574.50 580.50" y="293">4.0</text>
<text class="n" x="568.50 574.50 580.50" y="304">3.0</text>
<text class="n" x="568.50 574.50 580.50" y="315">2.0</text>
<text class="n" x="568.50 574.50 580.50" y="326">1.0</text>
<text class="n" x="568.50 574.50 580.50" y="336">0.0</text>
<text class="n" x="562.50 568.50 574.50 580.50" y="349">85.0</text>
<text class="n" x="562.50 568.50 574.50 580.50" y="361">80.0</text>
<text class="n" x="562.50 568.50 574.50 580.50" y="373">75.0</text>
<text class="n" x="562.50 568.50 574.50 580.50" y="385">70.0</text>
<text class="n" x="562.50 568.50 574.50 580.50" y="397">65.0</text>
<text class="n" x="562.50 568.50 574.50 580.50" y="409">60.0</text>
<text class="n" x="562.50 568.50 574.50 580.50" y="421">55.0</text>
<text class="n" x="562.50 568.50 574.50 580.50" y="433">50.0</text>
<text class="a" x="589" y="93">T(C)</text>
<text class="a" x="589" y="190">Pre (mb)</text>
<text class="a" x="589" y="287">SPD(MPS)</text>
<text class="a" x="589" y="384">RH(%)</text>
</svg>
</div></body></html>
